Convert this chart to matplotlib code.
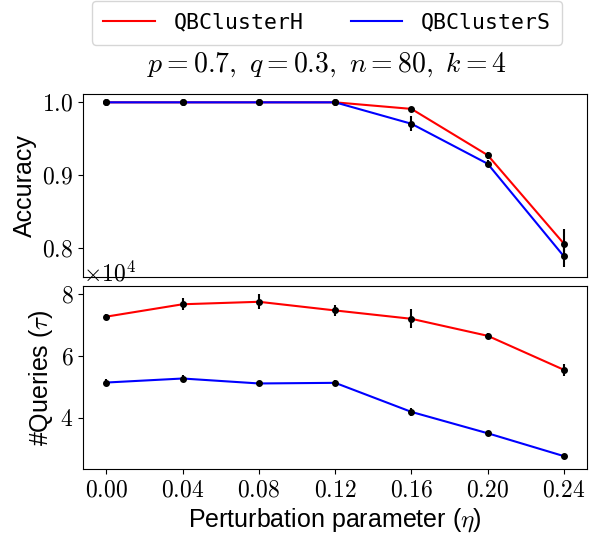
import matplotlib
matplotlib.use("Agg")
import matplotlib.pyplot as plt
from matplotlib.ticker import FuncFormatter

plt.rcParams['mathtext.fontset'] = 'cm'
plt.rcParams['font.family'] = ['Liberation Sans', 'DejaVu Sans']

eta = [0.00, 0.04, 0.08, 0.12, 0.16, 0.20, 0.24]

acc_H = [1.0, 1.0, 1.0, 1.0, 0.991, 0.9275, 0.806]
acc_H_err = [0.0, 0.0, 0.0, 0.0, 0.002, 0.005, 0.02]
acc_S = [1.0, 1.0, 1.0, 1.0, 0.9706, 0.9157, 0.7886]
acc_S_err = [0.0, 0.0, 0.0, 0.0, 0.01, 0.005, 0.015]

q_H = [72700, 76700, 77500, 74700, 72000, 66500, 55500]
q_H_err = [1000, 1900, 2400, 1900, 3100, 800, 2000]
q_S = [51400, 52700, 51100, 51300, 41900, 35000, 27600]
q_S_err = [1000, 1000, 500, 1000, 1200, 800, 800]

labels = ["QBClusterH", "QBClusterS"]
colors = ["red", "blue"]

fig = plt.figure(figsize=(6.0, 5.35), dpi=100)
ax1 = fig.add_axes([0.1388, 0.4817, 0.839, 0.342])
ax2 = fig.add_axes([0.1388, 0.1228, 0.839, 0.3426])

tick_fs = 17
lab_fs = 18
for ax in (ax1, ax2):
    ax.set_xlim(-0.0121, 0.2519)
    ax.set_xticks(eta)
    ax.tick_params(labelsize=tick_fs)

lines = []
for ys, es, c, lab in [(acc_H, acc_H_err, colors[0], labels[0]), (acc_S, acc_S_err, colors[1], labels[1])]:
    l, = ax1.plot(eta, ys, color=c, lw=1.5, label=lab)
    lines.append(l)
    ax1.errorbar(eta, ys, yerr=es, fmt='o', color='black', ms=4, elinewidth=1.5, capsize=0)

for ys, es, c in [(q_H, q_H_err, colors[0]), (q_S, q_S_err, colors[1])]:
    ax2.plot(eta, ys, color=c, lw=1.5)
    ax2.errorbar(eta, ys, yerr=es, fmt='o', color='black', ms=4, elinewidth=1.5, capsize=0)

ax1.set_ylim(0.760, 1.011)
ax1.set_yticks([0.8, 0.9, 1.0])
ax1.yaxis.set_major_formatter(FuncFormatter(lambda v, p: "$%.1f$" % v))
ax1.set_xticklabels([])
ax1.tick_params(axis='x', length=0)
ax1.set_ylabel("Accuracy", fontsize=lab_fs)

ax2.set_ylim(23350, 82600)
ax2.set_yticks([40000, 60000, 80000])
ax2.yaxis.set_major_formatter(FuncFormatter(lambda v, p: "$%g$" % (v / 1e4)))
ax2.text(0.0, 1.0, r"$\times10^{4}$", transform=ax2.transAxes, ha='left', va='bottom', fontsize=tick_fs)
ax2.xaxis.set_major_formatter(FuncFormatter(lambda v, p: "$%.2f$" % v))
ax2.set_ylabel(r"#Queries ($\tau$)", fontsize=lab_fs)
ax2.set_xlabel(r"Perturbation parameter ($\eta$)", fontsize=lab_fs)

fig.text(0.545, 0.866, r"$p=0.7,\ q=0.3,\ n=80,\ k=4$", ha='center', va='baseline', fontsize=20)

fig.legend(handles=lines, labels=labels, loc='upper center', bbox_to_anchor=(0.545, 0.998),
           ncol=2, prop={'family': 'DejaVu Sans Mono', 'size': 15.5}, handlelength=2.4,
           handletextpad=0.85, columnspacing=2.2, frameon=True, borderaxespad=0.0, borderpad=0.55)

fig.savefig("out.png", dpi=100)
